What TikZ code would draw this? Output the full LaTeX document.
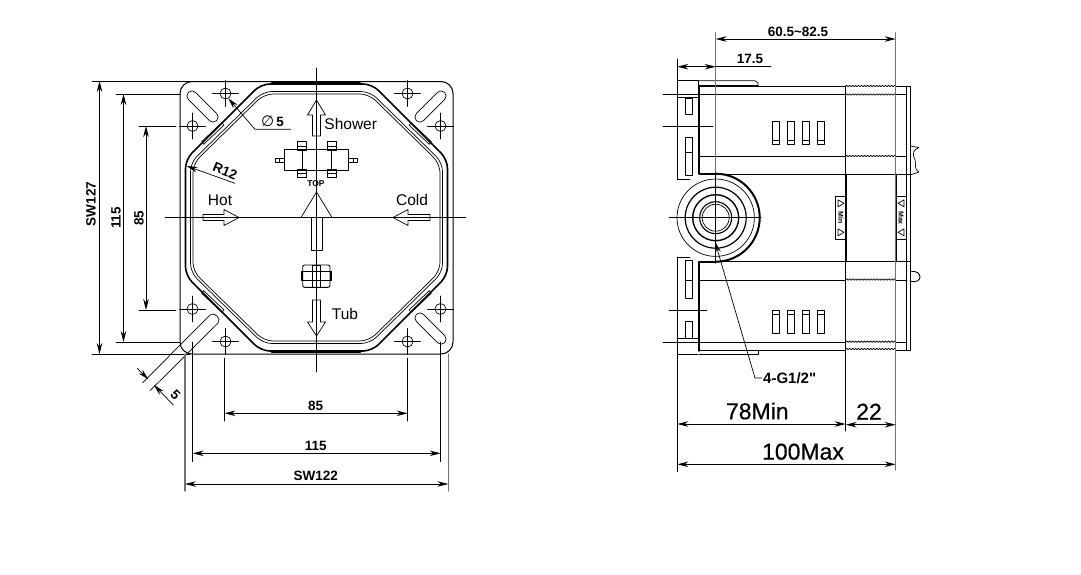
\documentclass[tikz,border=0pt]{standalone}
\usepackage{fontspec}
\setmainfont{Liberation Sans}
\newfontfamily\symfont{DejaVu Sans}
\newfontfamily\plainfont{Liberation Sans}
\newfontfamily\heavyfont{Liberation Sans}[FakeBold=.5]
\usetikzlibrary{arrows.meta,decorations.pathmorphing}
\tikzset{
    fine/.style={line width=.7pt},
    heavy/.style={line width=1.7pt},
    grayline/.style={line width=1.1pt,color=black!55},
    dimline/.style={line width=.8pt,<->},
    dimtext/.style={font=\fontsize{13.5}{15}\selectfont\bfseries,inner sep=0pt},
    labeltext/.style={font=\fontsize{15.5}{17}\selectfont,inner sep=0pt},
    bigtext/.style={font=\heavyfont\fontsize{23}{25}\selectfont,inner sep=0pt},
    threadline/.style={line width=.8pt,decorate,decoration={snake,amplitude=.7pt,segment length=3pt}},
}
\begin{document}
\begin{tikzpicture}[>={Stealth[length=11pt,width=5.5pt]}, line join=round, line cap=round, x=1pt, y=-1pt]
    \useasboundingbox (0,0) rectangle (1081,574);
    \def\cx{316.5} \def\cy{217.5}
    % front view
    \draw[line width=1pt,rounded corners=12] (180,81.5) rectangle (453,354);
    \draw[heavy] (272,83) rectangle (360,84.5);
    \draw[heavy] (272,351) rectangle (360,352.5);
    \foreach \d/\e/\w in {0/0/1.6,5/7.5/.7,7.5/10/.7}{
        \pgfmathsetmacro\hw{131-\d}
        \pgfmathsetmacro\hh{133.5-\e}
        \pgfmathsetmacro\ca{55.5-.414*\d}
        \pgfmathsetmacro\cb{58-.414*\e}
        \draw[line width=\w pt,rounded corners=9,shift={(\cx,\cy)}] (-\ca,-\hh)--(\ca,-\hh)--(\hw,-\cb)--(\hw,\cb)--(\ca,\hh)--(-\ca,\hh)--(-\hw,\cb)--(-\hw,-\cb)--cycle;
    }
    % holes and plates, one corner mirrored four times
    \foreach \sx/\sy in {1/1,-1/1,1/-1,-1/-1}{
        \begin{scope}[shift={(\cx,\cy)},xscale=\sx,yscale=\sy]
            \foreach \hx/\hy in {-124/-91.5,-91/-124}{
                \draw[fine] (\hx,\hy) circle (5.5);
                \draw[fine] (\hx-13,\hy)--(\hx+13,\hy);
                \draw[fine] (\hx,\hy-13)--(\hx,\hy+13);
            }
            \draw[fine] (-114.8,-75.8)--(-94.8,-94.8)--(-92.5,-92.5)--(-112.8,-73.2)--cycle;
        \end{scope}
    }
    \foreach \sx/\sy in {1/1,-1/1,-1/-1}{
        \begin{scope}[shift={(\cx,\cy)},xscale=\sx,yscale=\sy]
            \draw[fine,rounded corners=4.9,shift={(-114,-111)},rotate=-45] (-20,-5) rectangle (20,5);
        \end{scope}
    }
    % slot with the 5 dimension
    \draw[fine] (142.7,382.7)--(210,315) .. controls (214,311) and (222,319) .. (218,323)--(150,390.7);
    \draw[fine,<-] (148.3,379.3)--(137.3,368.3);
    \draw[fine,<-] (154,385)--(173.3,405);
    \node[dimtext,rotate=-45] (fiveLabel) at (175.5,395) {5};
    % center lines
    \draw[fine] (\cx,68)--(\cx,372);
    \draw[fine] (165,\cy)--(466,\cy);
    % arrows
    \draw[fine] (312.5,136)--(312.5,115)--(307.5,115)--(\cx,100)--(325.5,115)--(320.5,115)--(320.5,136)--cycle;
    \draw[fine] (312.5,300)--(312.5,322)--(307.5,322)--(\cx,336)--(325.5,322)--(320.5,322)--(320.5,300)--cycle;
    \draw[fine] (203,214.5)--(224,214.5)--(224,209.5)--(239,217.5)--(224,225.5)--(224,220.5)--(203,220.5)--cycle;
    \draw[fine] (430,214.5)--(408,214.5)--(408,209.5)--(393,217.5)--(408,225.5)--(408,220.5)--(430,220.5)--cycle;
    \draw[fine] (301,\cy)--(\cx,192)--(332,\cy);
    \draw[fine] (311,\cy) rectangle (322,250);
    % upper valve
    \draw[line width=.9pt] (284,149.3) rectangle (348.3,170);
    \foreach \vx in {297.7,327.3}{
        \draw[fine] (\vx,141.7) rectangle (\vx+9,150.7);
        \draw[fine] (\vx,146)--(\vx+9,146);
        \draw[fine] (\vx,169.3) rectangle (\vx+9,177.3);
        \draw[fine] (\vx,173)--(\vx+9,173);
        \draw[fine] (\vx+4.5,150.7)--(\vx+4.5,169.3);
    }
    \draw[fine] (275,158.3) rectangle (284,162.3);
    \draw[fine] (279,158.3)--(279,162.3);
    \draw[fine] (348.3,158.3) rectangle (357.3,162.3);
    \draw[fine] (353,158.3)--(353,162.3);
    % lower valve
    \draw[line width=.9pt,rounded corners=2] (302.7,265) rectangle (330,287.3);
    \draw[fine] (312.7,265) rectangle (320.3,287.3);
    \draw[fine] (302.7,271)--(330,271);
    \draw[fine] (302.7,280.7)--(330,280.7);
    \draw[fine] (301,271.7) rectangle (302.7,280);
    \draw[fine] (330,271.7) rectangle (331.7,280);
    % leaders
    \draw[fine,<-] (186.7,166)--(235,183.3);
    \draw[fine,<-] (228.3,98.3)--(255,129.3)--(290.7,129.3);
    % front view dimensions
    \draw[fine] (92,81)--(195,81);
    \draw[fine] (92,354)--(190,354);
    \draw[fine] (116,94)--(180,94);
    \draw[fine] (116,342)--(180,342);
    \draw[fine] (139,126)--(176,126);
    \draw[fine] (139,310)--(176,310);
    \draw[fine] (224.5,358)--(224.5,421);
    \draw[fine] (407.7,358)--(407.7,421);
    \draw[fine] (192.7,342)--(192.7,461.7);
    \draw[fine] (440.7,342)--(440.7,461.7);
    \draw[grayline] (185,354)--(185,491);
    \draw[grayline] (448.3,354)--(448.3,491);
    \draw[dimline] (99.5,81)--(99.5,354);
    \draw[dimline] (123.5,94)--(123.5,342);
    \draw[dimline] (146,126)--(146,310);
    \draw[dimline] (224.5,413.3)--(407.7,413.3);
    \draw[dimline] (192.7,453.3)--(440.7,453.3);
    \draw[dimline] (185,484)--(448.3,484);
    % front view labels
    \node[labeltext] (showerLabel) at (350.7,124.3) {Shower};
    \node[labeltext] (hotLabel) at (220,200) {Hot};
    \node[labeltext] (coldLabel) at (412,200) {Cold};
    \node[labeltext] (tubLabel) at (345,314.3) {Tub};
    \node[font=\fontsize{8.5}{9}\selectfont\bfseries,inner sep=0pt] (topLabel) at (316,184) {TOP};
    \node[dimtext,rotate=-22] (radiusLabel) at (225,171) {R12};
    \node[inner sep=0pt] (holeLabel) at (272.5,121) {{\symfont\fontsize{15}{16}\selectfont ∅}\fontsize{13.5}{15}\selectfont\bfseries\,5};
    \node[dimtext,rotate=90] (sw127Label) at (91,204) {SW127};
    \node[dimtext,rotate=90] (v115Label) at (116,218) {115};
    \node[dimtext,rotate=90] (v85Label) at (139,218) {85};
    \node[dimtext] (h85Label) at (315.7,405.7) {85};
    \node[dimtext] (h115Label) at (315.7,446) {115};
    \node[dimtext] (sw122Label) at (315.7,476) {SW122};
    % side view, outlines
    \draw[fine] (677.3,80.7)--(698.3,80.7)--(698.3,97.3);
    \draw[fine] (677.3,97.3)--(698.3,97.3);
    \draw[fine] (677.3,80.7)--(677.3,179);
    \draw[fine] (677.3,179)--(690,179);
    \draw[fine] (677.3,257)--(690,257);
    \draw[fine] (677.3,257)--(677.3,471.7);
    \draw[fine] (677.3,338)--(698,338);
    \draw[fine] (677.3,354)--(698,354);
    \draw[heavy] (699.3,85.5)--(699.3,174)--(715.7,174);
    \draw[heavy] (715.7,261.7)--(699.3,261.7)--(699.3,351);
    \draw[fine] (699.3,80.7)--(755,80.7)--(758,83)--(758,86);
    \draw[heavy] (699.3,86)--(758,86);
    \draw[heavy] (699.3,350.5)--(758,350.5);
    \draw[fine] (699.3,354)--(758,354)--(758,350.5);
    \draw[line width=.9pt] (758,86)--(845.7,86);
    \draw[line width=.9pt] (895.7,86)--(910,86)--(910,350)--(895.7,350);
    \draw[line width=.9pt] (758,350)--(845.7,350);
    \draw[fine] (906.7,86)--(906.7,350);
    \draw[fine] (663,94)--(845.7,94);
    \draw[fine] (895.7,94)--(907,94);
    \draw[fine] (663,126)--(713,126);
    \draw[fine] (699.3,156)--(845.7,156);
    \draw[fine] (895.7,156)--(907,156);
    \draw[line width=.9pt] (715.7,174.3)--(910,174.3);
    \draw[line width=.9pt] (715.7,261.7)--(910,261.7);
    \draw[fine] (699.3,280)--(845.7,280);
    \draw[fine] (895.7,280)--(907,280);
    \draw[fine] (669,310)--(707,310);
    \draw[fine] (663,342)--(845.7,342);
    \draw[fine] (895.7,342)--(907,342);
    % threads
    \foreach \ty in {86,94.5,156,279.5,341.7,349}
        \draw[threadline] (845.7,\ty)--(895.7,\ty);
    \draw[line width=.8pt] (845.7,86)--(845.7,174.3);
    \draw[line width=.8pt] (845.7,261.7)--(845.7,431);
    \draw[heavy] (845.7,174.3)--(845.7,261.7);
    \draw[heavy] (895.7,174.3)--(895.7,261.7);
    \draw[grayline] (895.7,32.7)--(895.7,470);
    \draw[grayline] (715.7,32.7)--(715.7,263);
    % plate slots and windows
    \foreach \ya/\yb in {98/114,137/175,260.7/298,321/338}
        \draw[line width=.9pt] (685,\ya) rectangle (692.3,\yb);
    \draw[fine] (685,152.7)--(692.3,152.7);
    \draw[fine] (685,280)--(692.3,280);
    \foreach \wx in {772.7,787.3,802,817}{
        \draw[fine] (\wx,121.7) rectangle (\wx+7,144);
        \draw[fine] (\wx,140.7)--(\wx+7,140.7);
        \draw[fine] (\wx,310.7) rectangle (\wx+7,333.3);
        \draw[fine] (\wx,314)--(\wx+7,314);
    }
    % port
    \fill[white] (715.7,217.7) circle (38.5);
    \draw[fine] (715.7,217.7) circle (38.7);
    \draw[line width=2pt] (715.7,173.7) .. controls (740,173.7) and (759.7,193.4) .. (759.7,217.7) .. controls (759.7,242) and (740,261.7) .. (715.7,261.7);
    \draw[line width=1.2pt] (715.7,217.7) circle (30.5);
    \draw[line width=1.4pt] (715.7,217.7) circle (23);
    \draw[line width=1.1pt] (715.7,217.7) circle (16);
    \draw[fine] (715.7,217.7) circle (13.5);
    \draw[fine] (669,217.7)--(761,217.7);
    \draw[fine] (715.7,173)--(715.7,263);
    % min and max tags
    \draw[fill=white,line width=.8pt] (835,196.7) rectangle (845.7,239.3);
    \draw[fill=white,line width=.8pt] (896,196.7) rectangle (906,239.3);
    \foreach \ty in {203.3,232.3}{
        \draw[fine] (838,\ty-3.5)--(838,\ty+3.5)--(844,\ty)--cycle;
        \draw[fine] (904,\ty-3.5)--(904,\ty+3.5)--(898,\ty)--cycle;
    }
    \node[font=\fontsize{7}{8}\selectfont\bfseries,inner sep=0pt,rotate=-90] (minTag) at (841,218) {Min};
    \node[font=\fontsize{7}{8}\selectfont\bfseries,inner sep=0pt,rotate=-90] (maxTag) at (901,218) {Max};
    % bumps on the right end
    \draw[fine] (910,146)--(919,147.5) .. controls (913,150) and (912,153) .. (915,160) .. controls (917,166) and (913,168) .. (919,172)--(910,175);
    \draw[line width=.9pt] (910,272) .. controls (917,270) and (920,274) .. (920,277) .. controls (920,280) and (917,283) .. (910,281);
    % side view dimensions
    \draw[dimline] (715.7,39)--(895.7,39);
    \draw[dimline] (677.3,66.7)--(715.7,66.7);
    \draw[fine] (715.7,66.7)--(771,66.7);
    \draw[fine] (677.3,59)--(677.3,80.7);
    \draw[dimline] (677.3,424)--(845.7,424);
    \draw[dimline] (845.7,424.7)--(895.7,424.7);
    \draw[dimline] (677.3,464.3)--(895.7,464.3);
    \draw[fine,<-] (715,241.7)--(755,378)--(761.7,378);
    % side view labels
    \node[dimtext] (rangeLabel) at (798,31.7) {60.5\textasciitilde82.5};
    \node[dimtext] (offsetLabel) at (750,59) {17.5};
    \node[inner sep=0pt,font=\plainfont\bfseries\fontsize{15}{16}\selectfont,anchor=west] (portLabel) at (763,378) {4-G1/2"};
    \node[bigtext] (minLabel) at (757.3,411) {78Min};
    \node[bigtext] (stepLabel) at (869,411.7) {22};
    \node[bigtext] (maxLabel) at (803,451.7) {100Max};
\end{tikzpicture}
\end{document}
